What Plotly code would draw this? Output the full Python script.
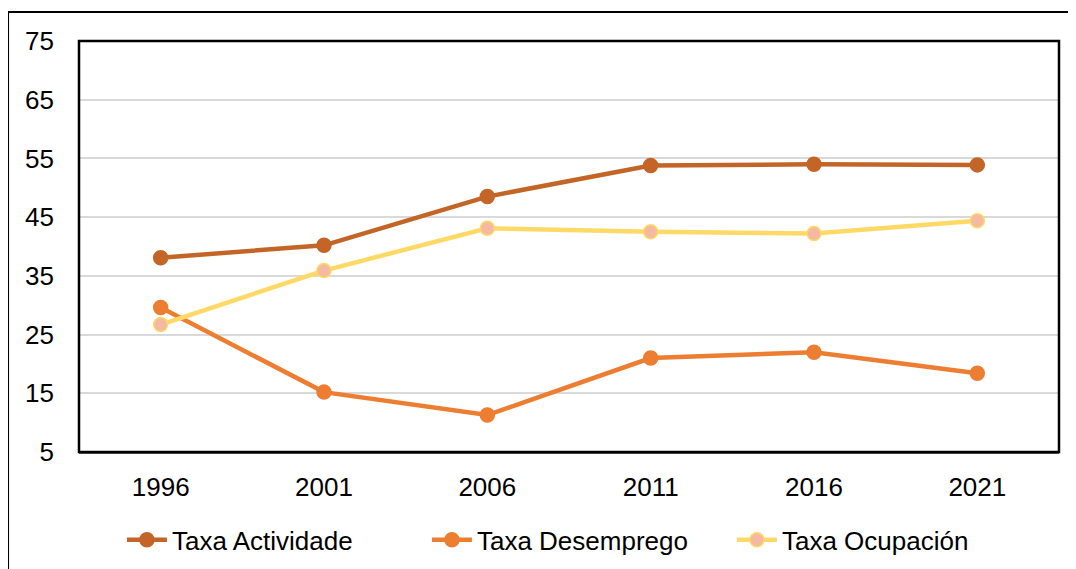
import plotly.graph_objects as go

years = ["1996", "2001", "2006", "2011", "2016", "2021"]
actividade = [38.1, 40.2, 48.5, 53.8, 54.0, 53.9]
desemprego = [29.6, 15.2, 11.3, 21.0, 22.0, 18.4]
ocupacion = [26.7, 35.9, 43.1, 42.5, 42.2, 44.4]
y_ticks = [5, 15, 25, 35, 45, 55, 65, 75]

series_names = ["Taxa Actividade", "Taxa Desemprego", "Taxa Ocupación"]
line_colors = ["#C46528", "#ED7D31", "#FFD966"]
marker_fills = ["#C46528", "#ED7D31", "#F4B9A0"]

FONT = "Liberation Sans, Arial, sans-serif"

fig = go.Figure()
for name, vals, lc, mf in zip(series_names, [actividade, desemprego, ocupacion], line_colors, marker_fills):
    fig.add_trace(go.Scatter(
        x=years, y=vals, name=name, mode="lines+markers",
        line=dict(color=lc, width=4.5),
        marker=dict(size=14, color=mf, line=dict(color=lc, width=1.5)),
    ))

fig.update_layout(
    width=1076, height=569,
    margin=dict(l=71, r=25, t=33, b=125),
    paper_bgcolor="white", plot_bgcolor="white",
    font=dict(family=FONT, size=26, color="black"),
    showlegend=True,
    legend=dict(orientation="h", x=0.0438, xanchor="left", y=-0.214, yanchor="middle",
                font=dict(size=26), entrywidth=250, itemwidth=40),
    xaxis=dict(type="category", range=[-0.5, len(years) - 0.5], showgrid=False, showline=True,
               linecolor="#595959", linewidth=2,
               ticks="", ticklabelstandoff=11, tickfont=dict(size=26)),
    yaxis=dict(range=[5, 75], tickvals=y_ticks, showgrid=True, gridcolor="#D9D9D9", gridwidth=1.5,
               zeroline=False, showline=False, ticks="", ticklabelstandoff=24, tickfont=dict(size=26)),
    shapes=[
        dict(type="rect", xref="paper", yref="paper", x0=0, x1=1, y0=0, y1=1,
             line=dict(color="black", width=2.5), layer="above"),
        dict(type="rect", xref="paper", yref="paper", x0=-0.0724, x1=1.05, y0=-0.4, y1=1.0706,
             line=dict(color="black", width=2), layer="above"),
    ],
)

fig.write_html("out.html")
